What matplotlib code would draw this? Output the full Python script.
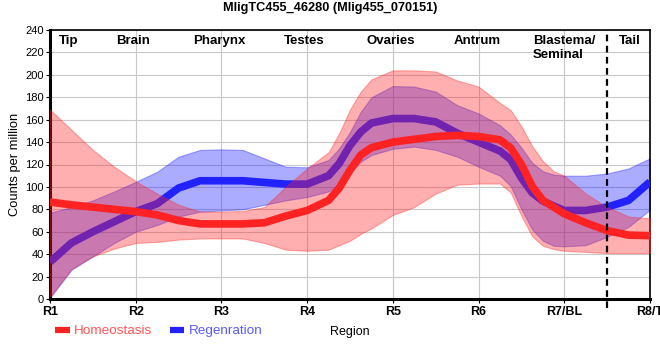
import numpy as np
import matplotlib
matplotlib.use("Agg")
import matplotlib.pyplot as plt
from matplotlib.lines import Line2D

plt.rcParams['font.family'] = ['Liberation Sans', 'DejaVu Sans']

# sample positions along the body (R1 = 1 ... R8 = 8)
pos = [1, 1.25, 1.5, 1.75, 2, 2.25, 2.5, 2.75, 3, 3.25, 3.5, 3.75, 4, 4.25, 4.375, 4.5, 4.625,
       4.75, 5, 5.25, 5.5, 5.75, 6, 6.25, 6.375, 6.5, 6.625, 6.75, 6.875, 7, 7.25, 7.5, 7.75, 8]

homeo_mean = [86.5, 84, 82, 80, 78, 75, 70, 67, 67, 67, 68, 74, 79, 88, 99, 115, 128.5,
              135, 140, 142.5, 145, 146, 145, 142, 134.8, 120, 100.7, 88, 82, 76, 68, 61, 57, 56.5]
homeo_upper = [169, 151, 133, 118, 105, 94, 84, 78, 78, 78.5, 82, 100, 116.5, 131, 148, 169, 185,
               196, 204, 204, 203, 195, 189.5, 175, 168.5, 154, 136.5, 123, 114, 110, 94, 82, 73.5, 72]
homeo_lower = [2, 27, 38, 45, 50, 51, 53, 54, 54, 54, 50, 44, 43, 44, 48, 52, 58,
               63, 75, 82, 94, 102, 103, 103, 95, 74, 56, 47.5, 44.5, 43, 42, 41, 41, 41]

regen_mean = [33, 50, 60, 69, 78, 85, 99, 105.5, 105.5, 105.5, 104, 102.5, 102.5, 110, 121, 137, 149,
              157, 161, 161, 158, 148, 140, 132, 124.4, 108, 94.8, 87.4, 83, 79, 79, 82, 88, 104.5]
regen_upper = [77, 82, 88, 96, 104.5, 113.5, 127, 133, 133.5, 133, 125.5, 118, 117.5, 124, 134.5, 149, 167,
               180, 190, 189.5, 185, 173, 165.5, 155, 146.7, 135, 121.5, 114, 111, 110, 110, 112, 116.5, 125.5]
regen_lower = [1, 26, 38, 50, 60, 66, 73.5, 78, 79, 80, 84, 88, 91, 96, 103, 112, 122.5,
               128.5, 134, 136, 133, 127, 118, 110, 100.7, 80, 62, 52, 47.5, 47, 48, 55.5, 64.5, 79.5]

tick_pos = [1, 2, 3, 4, 5, 6, 7, 8]
tick_labels = ["R1", "R2", "R3", "R4", "R5", "R6", "R7/BL", "R8/T"]
region_names = ["Tip", "Brain", "Pharynx", "Testes", "Ovaries", "Antrum", "Blastema/\nSeminal", "Tail"]
region_pos = [1.22, 1.97, 2.98, 3.96, 4.98, 5.98, 7.0, 7.77]
tail_boundary = 7.5

red = '#ff2222'
blue = '#2222ff'

fig = plt.figure(figsize=(6.6, 3.6), dpi=100)
ax = fig.add_axes([50/660, 61/360, 600/660, 269/360])

ax.fill_between(pos, regen_lower, regen_upper, color=blue, alpha=0.38, lw=0.8, zorder=2)
ax.plot(pos, regen_mean, color=blue, lw=5.5, solid_capstyle='butt', solid_joinstyle='round', zorder=3)
ax.fill_between(pos, homeo_lower, homeo_upper, color=red, alpha=0.36, lw=0.8, zorder=4)
ax.plot(pos, homeo_mean, color=red, lw=5.5, solid_capstyle='butt', solid_joinstyle='round', zorder=5)

ax.plot([tail_boundary, tail_boundary], [-8, 240], color='black', lw=1.6,
        dashes=(3, 2), clip_on=False, zorder=6)

for name, x in zip(region_names, region_pos):
    ax.text(x, 235.5, name, ha='center', va='top', multialignment='left',
            fontsize=9.5, fontweight='bold', zorder=7)

ax.set_xlim(1, 8)
ax.set_ylim(0, 240)
ax.set_yticks(np.arange(0, 241, 20))
ax.set_xticks(tick_pos)
ax.set_xticklabels(tick_labels, fontweight='bold')
ax.tick_params(axis='y', labelsize=8, length=3, width=0.8, pad=1.5)
ax.tick_params(axis='x', labelsize=9, length=3, width=0.8, pad=2)
ax.grid(True, color='#c8c8c8', lw=0.8, zorder=0)
ax.set_axisbelow(True)

for side in ['left', 'bottom']:
    ax.spines[side].set_linewidth(2.2)
for side in ['top', 'right']:
    ax.spines[side].set_linewidth(1.2)

ax.set_ylabel("Counts per million", fontsize=9.3, labelpad=3)
ax.set_xlabel("Region", fontsize=9, labelpad=6)

fig.text(0.5, 1 - 8/360, "MligTC455_46280 (Mlig455_070151)", ha='center', va='center',
         fontsize=9.2, fontweight='bold')

handles = [Line2D([], [], color=red, lw=4.5, solid_capstyle='butt'),
           Line2D([], [], color=blue, lw=4.5, solid_capstyle='butt')]
leg = ax.legend(handles, ["Homeostasis", "Regenration"], loc='center left',
                bbox_to_anchor=(55/660, 29/360), bbox_transform=fig.transFigure,
                frameon=False, ncol=2, fontsize=9.7, handlelength=1.1,
                handletextpad=0.3, columnspacing=1.3, borderpad=0, borderaxespad=0)
leg.get_texts()[0].set_color('#ff5555')
leg.get_texts()[1].set_color('#5a5aff')

fig.savefig("out.png", dpi=100)
